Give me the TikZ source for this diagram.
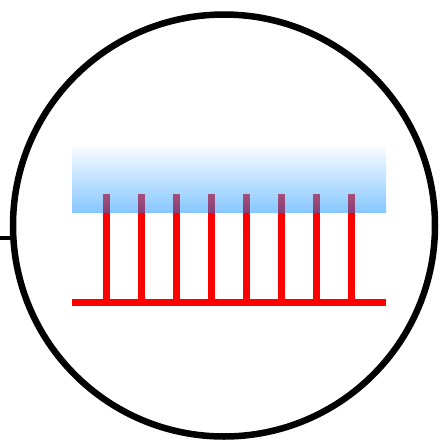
\documentclass[tikz,border=0pt]{standalone}
\begin{document}
\begin{tikzpicture}[x=1pt,y=-1pt,
  bar/.style={draw=red,line width=7pt},
  ring/.style={draw=black,line width=6.5pt}]
\useasboundingbox (0,0) rectangle (444,445);
% red comb
\coordinate (bl) at (72,302);
\coordinate (br) at (386,302);
\draw[bar] (bl) -- (br);
\foreach \x/\n in {106/1,141/2,176/3,211/4,246/5,281/6,316/7,351/8}{
  \coordinate (t\n) at (\x,194);
  \coordinate (b\n) at (\x,302);
  \draw[bar] (t\n) -- (b\n);
}
% blue gradient band
\node (band) [draw=none, inner sep=0pt, minimum width=314pt, minimum height=70pt,
  fill opacity=0.47, top color=white, bottom color={rgb,255:red,0;green,137;blue,255},
  anchor=north west] at (72,142) {};
% circle
\node (ring) [ring, circle, minimum size=422pt, inner sep=0pt] at (224,225.5) {};
% left tick
\coordinate (tk) at (0,238);
\draw[black,line width=3.5pt] (tk) -- (ring.west |- tk);
\end{tikzpicture}
\end{document}
